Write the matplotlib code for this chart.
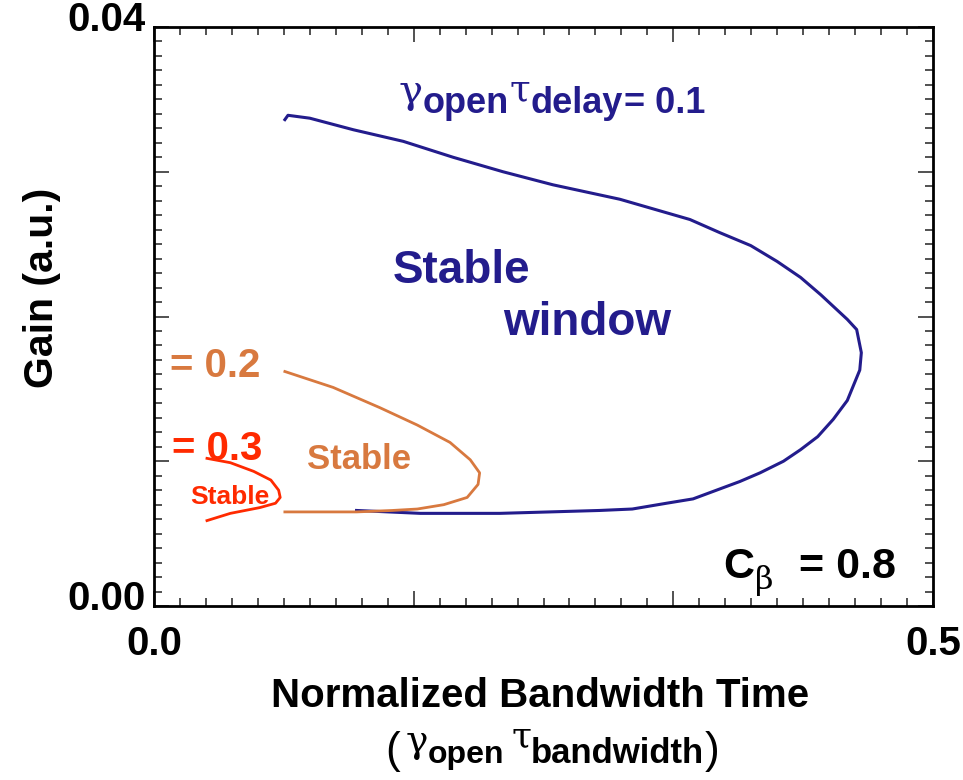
import matplotlib
matplotlib.use('Agg')
import matplotlib.pyplot as plt
from matplotlib.ticker import MultipleLocator
from matplotlib.transforms import ScaledTranslation

# curve for gamma_open * tau_delay = 0.1
blue_x = [0.084, 0.086, 0.100, 0.128, 0.160, 0.192, 0.224, 0.256, 0.299, 0.344, 0.363,
          0.383, 0.400, 0.415, 0.428, 0.436, 0.445, 0.451, 0.454, 0.453, 0.445, 0.436,
          0.426, 0.415, 0.404, 0.389, 0.376, 0.361, 0.346, 0.329, 0.307, 0.286, 0.222,
          0.171, 0.130]
blue_y = [0.0336, 0.0339, 0.0337, 0.0329, 0.0321, 0.0310, 0.0300, 0.0291, 0.0281, 0.0267,
          0.0258, 0.0249, 0.0238, 0.0227, 0.0215, 0.0207, 0.0198, 0.0191, 0.0175, 0.0163,
          0.0142, 0.0129, 0.0117, 0.0108, 0.0100, 0.0092, 0.0086, 0.0080, 0.0074, 0.0071,
          0.0067, 0.0066, 0.0064, 0.0064, 0.0066]

# = 0.2
orange_x = [0.084, 0.115, 0.145, 0.169, 0.190, 0.203, 0.209, 0.208, 0.201, 0.186, 0.169,
            0.153, 0.130, 0.084]
orange_y = [0.0162, 0.0151, 0.0137, 0.0125, 0.0113, 0.0101, 0.0092, 0.0084, 0.0075, 0.0070,
            0.0067, 0.0066, 0.0065, 0.0065]

# = 0.3
red_x = [0.034, 0.049, 0.064, 0.075, 0.080, 0.081, 0.078, 0.068, 0.049, 0.034]
red_y = [0.0102, 0.0099, 0.0093, 0.0087, 0.0080, 0.0075, 0.0071, 0.0068, 0.0064, 0.0059]

xticks = [0.0, 0.5 / 3, 1.0 / 3, 0.5]
xtick_labels = ['0.0', '', '', '0.5']
yticks = [0.0, 0.01, 0.02, 0.03, 0.04]
ytick_labels = ['0.00', '', '', '', '0.04']

BLUE = '#231c8c'
ORANGE = '#d8793f'
RED = '#ff2a00'
SANS = ['Liberation Sans', 'DejaVu Sans']
GREEK = ['DejaVu Serif']

W, H = 963, 780
fig = plt.figure(figsize=(W / 100, H / 100), dpi=100)
ax = fig.add_axes([154 / W, 1 - 606 / H, (933 - 154) / W, (606 - 27) / H])

ax.plot(blue_x, blue_y, color=BLUE, lw=2.2, solid_joinstyle='round')
ax.plot(orange_x, orange_y, color=ORANGE, lw=2, solid_joinstyle='round')
ax.plot(red_x, red_y, color=RED, lw=2, solid_joinstyle='round')

ax.set_xlim(0, 0.5)
ax.set_ylim(0, 0.04)
ax.set_xticks(xticks, labels=xtick_labels)
ax.set_yticks(yticks, labels=ytick_labels)
ax.xaxis.set_minor_locator(MultipleLocator(0.5 / 30))
ax.yaxis.set_minor_locator(MultipleLocator(0.001))
ax.tick_params(which='both', direction='in', top=True, right=True, color='#333333', width=1.2)
ax.tick_params(which='major', length=11)
ax.tick_params(which='minor', length=6)
ax.tick_params(axis='x', pad=14)
ax.tick_params(axis='y', pad=6)
for sp in ax.spines.values():
    sp.set_linewidth(2)
for lab in ax.get_xticklabels() + ax.get_yticklabels():
    lab.set_family(SANS)
    lab.set_fontweight('bold')
    lab.set_fontsize(29)
for lab in ax.get_yticklabels():
    lab.set_transform(lab.get_transform() + ScaledTranslation(0, 8 / 72, fig.dpi_scale_trans))


def rich(x, y, pieces, color):
    # pieces placed one after another, y is the baseline in pixels from top
    prev = None
    for s, size, dx, dy, fam, wt in pieces:
        if prev is None:
            xy, coords = (x, H - y), 'figure pixels'
        else:
            xy, coords = (1, H - y), (prev, 'figure pixels')
        prev = ax.annotate(s, xy=xy, xycoords=coords, xytext=(dx, dy),
                           textcoords='offset points', fontsize=size, family=fam,
                           fontweight=wt, color=color, ha='left', va='baseline',
                           annotation_clip=False)
    return prev


def label(x, y, s, color, size, **kw):
    fig.text(x / W, 1 - y / H, s, color=color, fontsize=size, family=SANS,
             fontweight='bold', va='baseline', **kw)


rich(398, 113, [('γ', 29, 0, 7, GREEK, 'normal'),
                ('open', 26, 0, 0, SANS, 'bold'),
                ('τ', 27, 1, 9, GREEK, 'normal'),
                ('delay', 26, 0, 0, SANS, 'bold'),
                ('= 0.1', 26, 1, 0, SANS, 'bold')], BLUE)

label(393, 283, 'Stable', BLUE, 33)
label(503, 335, 'window', BLUE, 33)
label(170, 377, '= 0.2', ORANGE, 29)
label(172, 460, '= 0.3', RED, 29)
label(307, 469, 'Stable', ORANGE, 25)
label(190, 504, 'Stable', RED, 19)

rich(723, 578, [('C', 31, 0, 0, SANS, 'bold'),
                ('β', 23, 1, -8, GREEK, 'normal'),
                ('= 0.8', 31, 18, 0, SANS, 'bold')], 'black')

label(540, 707, 'Normalized Bandwidth Time', 'black', 29, ha='center')
rich(385, 763, [('(', 32, 0, 0, SANS, 'normal'),
                ('γ', 27, 4, 8, GREEK, 'normal'),
                ('open', 23, 0, 0, SANS, 'bold'),
                ('τ', 26, 5, 12, GREEK, 'normal'),
                ('bandwidth', 25, 0, 0, SANS, 'bold'),
                (')', 32, 0, 0, SANS, 'normal')], 'black')

fig.text(42 / W, 1 - 288 / H, 'Gain (a.u.)', rotation=90, fontsize=29.5, family=SANS,
         fontweight='bold', ha='center', va='center')

fig.savefig('out.png', dpi=100)
